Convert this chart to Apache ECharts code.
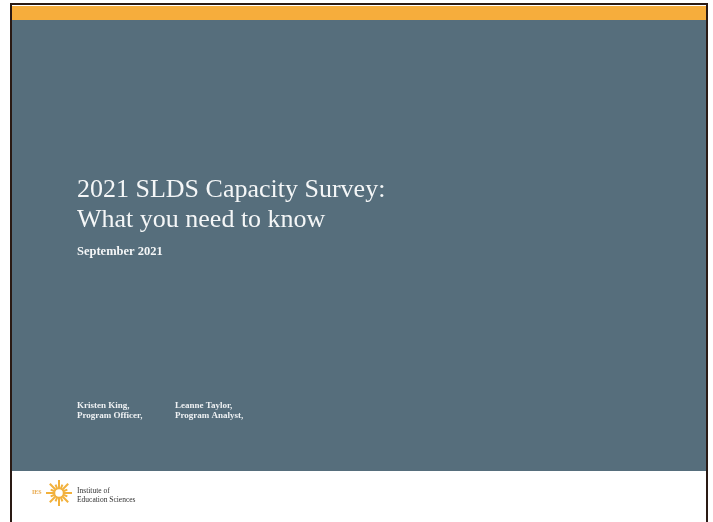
<!DOCTYPE html>
<html><head><meta charset="utf-8">
<script src="https://cdn.jsdelivr.net/npm/echarts@6/dist/echarts.min.js"></script>
<style>html,body{margin:0;padding:0;background:#fff}#c{width:713px;height:522px}</style>
</head><body><div id="c"></div>
<script>
const titleLines = ["2021 SLDS Capacity Survey:", "What you need to know"];
const subtitle = "September 2021";
const presenters = [["Kristen King,", "Program Officer,"], ["Leanne Taylor,", "Program Analyst,"]];
const logoText = ["Institute of", "Education Sciences"];
const logoAbbr = "IES";

const chart = echarts.init(document.getElementById('c'), null, {renderer: 'canvas'});
const serif = '"Liberation Serif", "DejaVu Serif", serif';
const elements = [];
// frame
elements.push({type:'rect', shape:{x:11, y:4, width:696, height:520}, style:{fill:'#fff', stroke:'#2a1a14', lineWidth:2}});
elements.push({type:'rect', shape:{x:12, y:6, width:694, height:14}, style:{fill:'#f6ad3c'}});
elements.push({type:'rect', shape:{x:12, y:20, width:694, height:451}, style:{fill:'#566e7c'}});
// title
titleLines.forEach((t,i)=>{
  elements.push({type:'text', x:77, y:177 + i*30, style:{text:t, fill:'#f4f6f7', font:'26px ' + serif, textVerticalAlign:'top'}});
});
elements.push({type:'text', x:77, y:245, style:{text:subtitle, fill:'#f4f6f7', font:'bold 12.5px ' + serif, textVerticalAlign:'top'}});
presenters.forEach((p,i)=>{
  p.forEach((line,j)=>{
    elements.push({type:'text', x:77 + i*98, y:401 + j*10.5, style:{text:line, fill:'#eef1f3', font:'bold 9px ' + serif, textVerticalAlign:'top'}});
  });
});
// logo
elements.push({type:'text', x:32, y:489, style:{text:logoAbbr, fill:'#e8a84a', font:'bold 6px ' + serif, textVerticalAlign:'top'}});
const cx = 59, cy = 493;
for (let k=0;k<16;k++){
  const a = k*Math.PI/8;
  const r2 = (k%2===0)?13:9;
  elements.push({type:'line', shape:{x1:cx+Math.cos(a)*4, y1:cy+Math.sin(a)*4, x2:cx+Math.cos(a)*r2, y2:cy+Math.sin(a)*r2}, style:{stroke:'#f2b13c', lineWidth:2}});
}
elements.push({type:'circle', shape:{cx:cx, cy:cy, r:4.5}, style:{fill:'#fff', stroke:'#f2b13c', lineWidth:1.5}});
logoText.forEach((t,i)=>{
  elements.push({type:'text', x:77, y:487 + i*9, style:{text:t, fill:'#333', font:'7.5px ' + serif, textVerticalAlign:'top'}});
});
chart.setOption({animation:false, backgroundColor:'#fff', graphic:{elements:elements}});
</script></body></html>
